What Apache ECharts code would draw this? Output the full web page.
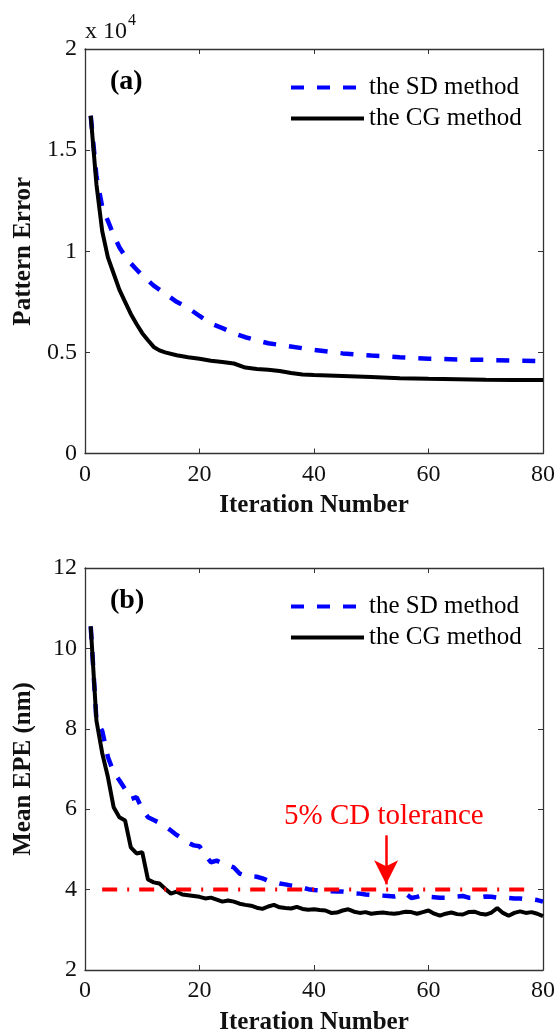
<!DOCTYPE html>
<html><head><meta charset="utf-8">
<script src="https://cdn.jsdelivr.net/npm/echarts@6/dist/echarts.min.js"></script>
<style>html,body{margin:0;padding:0;background:#fff}#c{width:558px;height:1036px}</style>
</head><body><div id="c"></div>
<script>
// ---------- data ----------
const xTicks = [0, 20, 40, 60, 80];
const yTicksA = ['0', '0.5', '1', '1.5', '2'];
const yTicksB = ['2', '4', '6', '8', '10', '12'];
const seriesNames = ['the SD method', 'the CG method'];

// (a) Pattern Error
const iterA_SD = [1,2,3,4,5,6,7,8,9,10,12,14,16,18,20,22,24,26,28,30,32,35,40,45,50,55,60,65,70,75,80];
const errA_SD  = [16700,13700,12200,11500,10800,10200,9750,9400,9100,8800,8300,7900,7500,7200,6800,6420,6200,5950,5750,5600,5450,5330,5120,4950,4840,4760,4690,4650,4630,4590,4570];
const iterA_CG = [1,2,3,4,5,6,7,8,9,10,11,12,13,14,16,18,20,22,24,26,28,30,32,34,36,38,40,45,50,55,60,65,70,75,80];
const errA_CG  = [16700,13300,11000,9700,8900,8100,7500,6900,6400,5950,5600,5270,5100,5000,4860,4760,4680,4590,4520,4450,4250,4180,4140,4080,3980,3910,3880,3830,3780,3720,3690,3670,3650,3640,3630];

// (b) Mean EPE (nm)
const iterB = [1,2,3,4,5,6,7,8,9,10,11,12,13,14,15,16,17,18,19,20,21,22,23,24,25,26,27,28,29,30,31,32,33,34,35,36,37,38,39,40,41,42,43,44,45,46,47,48,49,50,51,52,53,54,55,56,57,58,59,60,61,62,63,64,65,66,67,68,69,70,71,72,73,74,75,76,77,78,79,80];
const epeB_SD = [10.55,8.2,7.95,7.3,6.92,6.72,6.5,6.25,6.3,6.0,5.8,5.73,5.66,5.58,5.47,5.36,5.26,5.17,5.1,5.08,4.85,4.68,4.72,4.66,4.6,4.55,4.4,4.35,4.33,4.32,4.28,4.22,4.19,4.15,4.13,4.1,4.08,4.05,4.01,3.99,3.98,3.97,3.96,3.95,3.95,3.93,3.91,3.9,3.88,3.87,3.86,3.85,3.84,3.83,3.86,3.9,3.79,3.82,3.87,3.82,3.81,3.8,3.8,3.81,3.83,3.84,3.8,3.8,3.81,3.83,3.82,3.8,3.79,3.79,3.78,3.78,3.76,3.76,3.74,3.7];
const epeB_CG = [10.55,8.2,7.4,6.8,6.05,5.8,5.72,5.05,4.9,4.93,4.25,4.18,4.15,4.02,3.9,3.95,3.88,3.86,3.84,3.82,3.78,3.8,3.75,3.7,3.73,3.7,3.65,3.62,3.6,3.55,3.52,3.58,3.62,3.56,3.54,3.53,3.57,3.52,3.5,3.51,3.49,3.48,3.42,3.43,3.48,3.51,3.45,3.42,3.44,3.4,3.42,3.43,3.41,3.4,3.42,3.45,3.44,3.4,3.44,3.48,3.4,3.35,3.4,3.43,3.39,3.38,3.44,3.45,3.4,3.38,3.43,3.54,3.42,3.35,3.42,3.46,3.42,3.44,3.4,3.34];

// 5% CD tolerance line and arrow
const tolX = [3, 77];
const tolY = [4, 4];
const arrowX = [52.6, 52.6];
const arrowY = [5.35, 4.13];
const tolText = '5% CD tolerance';
const tolTextPos = [52.2, 5.82];

// ---------- chart ----------
const FONT = '"Liberation Serif", "Times New Roman", serif';
const zip = (a, b) => a.map((v, i) => [v, b[i]]);
const AX = '#333';

function xAxis(grid, pos, labels) {
  return {
    type: 'value', gridIndex: grid, position: pos, min: 0, max: 80, interval: 20,
    axisLine: { show: true, onZero: false, lineStyle: { color: AX, width: 1.3 } },
    axisTick: { show: true, inside: true, length: 5, lineStyle: { color: AX, width: 1 } },
    splitLine: { show: false },
    axisLabel: { show: labels, fontFamily: FONT, fontSize: 24, color: '#111', margin: 9 },
    name: labels ? 'Iteration Number' : '', nameLocation: 'middle', nameGap: 40,
    nameTextStyle: { fontFamily: FONT, fontWeight: 'bold', fontSize: 25, color: '#111' }
  };
}
function yAxis(grid, pos, labels, min, max, interval, fmt, name) {
  return {
    type: 'value', gridIndex: grid, position: pos, min: min, max: max, interval: interval,
    axisLine: { show: true, onZero: false, lineStyle: { color: AX, width: 1.3 } },
    axisTick: { show: true, inside: true, length: 5, lineStyle: { color: AX, width: 1 } },
    splitLine: { show: false },
    axisLabel: { show: labels, fontFamily: FONT, fontSize: 24, color: '#111', margin: 8, formatter: fmt },
    name: labels ? name : '', nameLocation: 'middle', nameGap: 49,
    nameTextStyle: { fontFamily: FONT, fontWeight: 'bold', fontSize: 25, color: '#111' }
  };
}
function legend(top) {
  return {
    left: 284, top: top, orient: 'vertical', itemWidth: 73, itemHeight: 14, itemGap: 6,
    selectedMode: false, data: seriesNames,
    itemStyle: { opacity: 0, borderWidth: 0 },
    lineStyle: { width: 4 },
    textStyle: { fontFamily: FONT, fontSize: 25, color: '#000' }
  };
}
const sdStyle = { color: '#0000ff', width: 4.5, type: [13, 13] };
const cgStyle = { color: '#000000', width: 4, type: 'solid' };

const fmtA = (v) => yTicksA[Math.round(v / 5000)];
const fmtB = (v) => yTicksB[Math.round((v - 2) / 2)];

const option = {
  backgroundColor: '#fff',
  animation: false,
  grid: [
    { left: 85, top: 49, width: 460, height: 404.5 },
    { left: 85, top: 568, width: 460, height: 405 }
  ],
  xAxis: [xAxis(0, 'bottom', true), xAxis(0, 'top', false), xAxis(1, 'bottom', true), xAxis(1, 'top', false)],
  yAxis: [
    yAxis(0, 'left', true, 0, 20000, 5000, fmtA, 'Pattern Error'),
    yAxis(0, 'right', false, 0, 20000, 5000, fmtA, ''),
    yAxis(1, 'left', true, 2, 12, 2, fmtB, 'Mean EPE (nm)'),
    yAxis(1, 'right', false, 2, 12, 2, fmtB, '')
  ],
  legend: [legend(70), legend(589)],
  series: [
    { type: 'line', name: seriesNames[0], xAxisIndex: 0, yAxisIndex: 0, data: zip(iterA_SD, errA_SD), symbol: 'none', lineStyle: sdStyle, itemStyle: { color: '#0000ff' }, z: 2 },
    { type: 'line', name: seriesNames[1], xAxisIndex: 0, yAxisIndex: 0, data: zip(iterA_CG, errA_CG), symbol: 'none', lineStyle: cgStyle, itemStyle: { color: '#000' }, z: 3 },
    { type: 'line', name: seriesNames[0], xAxisIndex: 2, yAxisIndex: 2, data: zip(iterB, epeB_SD), symbol: 'none', lineStyle: sdStyle, itemStyle: { color: '#0000ff' }, z: 2 },
    { type: 'line', name: seriesNames[1], xAxisIndex: 2, yAxisIndex: 2, data: zip(iterB, epeB_CG), symbol: 'none', lineStyle: cgStyle, itemStyle: { color: '#000' }, z: 3 },
    { type: 'line', name: 'tolerance', xAxisIndex: 2, yAxisIndex: 2, data: zip(tolX, tolY), symbol: 'none',
      lineStyle: { color: '#ff0000', width: 4, type: [15, 10, 2, 10] }, itemStyle: { color: '#f00' }, z: 4,
      markLine: {
        silent: true, symbol: ['none', 'arrow'], symbolSize: [18, 24],
        lineStyle: { color: '#ff0000', width: 2.5, type: 'solid' },
        label: { show: false },
        data: [[{ coord: [arrowX[0], arrowY[0]] }, { coord: [arrowX[1], arrowY[1]] }]]
      },
      markPoint: {
        silent: true, symbol: 'circle', symbolSize: 0,
        label: { show: true, position: 'inside', formatter: tolText, fontFamily: FONT, fontSize: 29, color: '#ff0000' },
        data: [{ coord: tolTextPos }]
      }
    }
  ],
  graphic: [
    { type: 'text', x: 110, y: 82, style: { text: '(a)', fontFamily: FONT, fontWeight: 'bold', fontSize: 28, fill: '#000', verticalAlign: 'middle' } },
    { type: 'text', x: 110, y: 601, style: { text: '(b)', fontFamily: FONT, fontWeight: 'bold', fontSize: 28, fill: '#000', verticalAlign: 'middle' } },
    { type: 'text', x: 85, y: 32, style: { text: 'x 10', fontFamily: FONT, fontSize: 24, fill: '#111', verticalAlign: 'middle' } },
    { type: 'text', x: 128, y: 21, style: { text: '4', fontFamily: FONT, fontSize: 16, fill: '#111', verticalAlign: 'middle' } }
  ]
};
const chart = echarts.init(document.getElementById('c'), null, { renderer: 'canvas' });
chart.setOption(option);
</script></body></html>
